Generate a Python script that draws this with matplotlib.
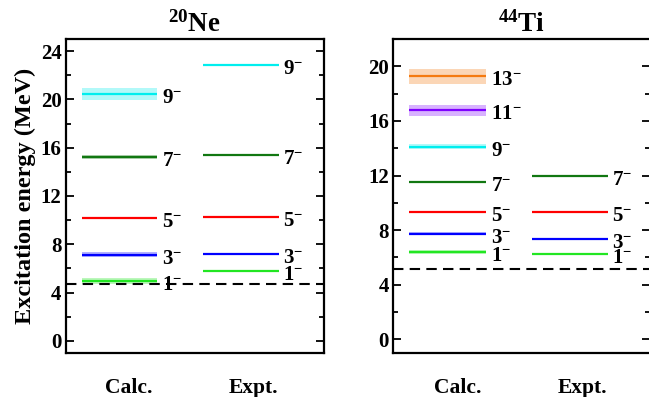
import matplotlib
matplotlib.use("Agg")
import matplotlib.pyplot as plt
from matplotlib.ticker import MultipleLocator

plt.rcParams['font.family'] = ['Liberation Serif', 'DejaVu Serif']
plt.rcParams['font.weight'] = 'bold'
plt.rcParams['mathtext.fontset'] = 'custom'
plt.rcParams['mathtext.rm'] = 'Liberation Serif:bold'
plt.rcParams['mathtext.bf'] = 'Liberation Serif:bold'
plt.rcParams['mathtext.it'] = 'Liberation Serif:bold:italic'
plt.rcParams['mathtext.default'] = 'rm'

# ---- level data (MeV) ----
ne_spins = ['1', '3', '5', '7', '9']
ne_calc = [4.95, 7.15, 10.21, 15.25, 20.48]
ne_calc_err = [0.22, 0.18, 0.05, 0.15, 0.5]
ne_expt = [5.79, 7.16, 10.26, 15.37, 22.87]
ne_threshold = 4.73

ti_spins = ['1', '3', '5', '7', '9', '11', '13']
ti_calc = [6.39, 7.73, 9.36, 11.53, 14.12, 16.77, 19.28]
ti_calc_err = [0.12, 0.12, 0.06, 0.1, 0.2, 0.4, 0.55]
ti_spins_expt = ['1', '3', '5', '7']
ti_expt = [6.22, 7.32, 9.34, 11.95]
ti_threshold = 5.13

colors = {'1': '#22e622', '3': '#0000ff', '5': '#ff0000', '7': '#117711',
          '9': '#00eeee', '11': '#7f00ff', '13': '#f47a10'}

fig = plt.figure(figsize=(6.49, 3.97), dpi=100)
ax1 = fig.add_axes([0.1012, 0.1108, 0.398, 0.791])
ax2 = fig.add_axes([0.6055, 0.1108, 0.3965, 0.791])


def draw_levels(ax, spins, energies, x0, x1, errs=None, label_dx=0.018):
    for i, (j, e) in enumerate(zip(spins, energies)):
        c = colors[j]
        if errs is not None:
            ax.fill_between([x0, x1], e - errs[i], e + errs[i], color=c,
                            alpha=0.3, lw=0)
        ax.plot([x0, x1], [e, e], color=c, lw=1.6, solid_capstyle='butt')
        ax.annotate(j + r'$^{-}$', xy=(x1 + label_dx, e), xytext=(0, -6.5),
                    textcoords='offset points', ha='left', va='baseline',
                    fontsize=15, fontweight='bold')


def style_axes(ax, ylim, threshold, title, xcalc, xexpt):
    ax.set_xlim(0, 1)
    ax.set_ylim(*ylim)
    ax.axhline(threshold, color='black', lw=1.5, dashes=(5, 3))
    ax.yaxis.set_major_locator(MultipleLocator(4))
    ax.yaxis.set_minor_locator(MultipleLocator(2))
    ax.tick_params(axis='y', which='both', direction='in', left=True,
                   right=True, width=1.3, labelsize=15, pad=3)
    ax.tick_params(axis='y', which='major', length=6)
    ax.tick_params(axis='y', which='minor', length=3.5)
    ax.tick_params(axis='x', which='both', bottom=False, top=False,
                   labelbottom=False)
    for s in ax.spines.values():
        s.set_linewidth(1.6)
    for lab in ax.get_yticklabels():
        lab.set_fontweight('bold')
    ax.set_title(title, fontsize=19.5, fontweight='bold', pad=5)
    ax.text(xcalc, -0.11, 'Calc.', transform=ax.transAxes, ha='center',
            va='center', fontsize=15.5, fontweight='bold')
    ax.text(xexpt, -0.11, 'Expt.', transform=ax.transAxes, ha='center',
            va='center', fontsize=15.5, fontweight='bold')


# 20Ne
draw_levels(ax1, ne_spins, ne_calc, 0.063, 0.354, ne_calc_err)
draw_levels(ax1, ne_spins, ne_expt, 0.533, 0.824)
style_axes(ax1, (-1, 25), ne_threshold, r'$^{20}$Ne', 0.245, 0.726)
ax1.set_ylabel('Excitation energy (MeV)', fontsize=17.5, fontweight='bold',
               labelpad=3)

# 44Ti
draw_levels(ax2, ti_spins, ti_calc, 0.063, 0.362, ti_calc_err)
draw_levels(ax2, ti_spins_expt, ti_expt, 0.54, 0.835)
style_axes(ax2, (-1, 22), ti_threshold, r'$^{44}$Ti', 0.253, 0.735)

fig.savefig('out.png', dpi=100)
